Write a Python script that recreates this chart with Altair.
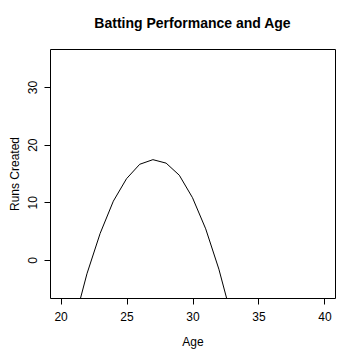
import altair as alt
import pandas as pd

ages = [20, 21, 22, 23, 24, 25, 26, 27, 28, 29, 30, 31, 32, 33, 34, 35, 36, 37, 38, 39, 40]
runs = [-21.3, -11.1, -2.4, 4.6, 10.2, 14.1, 16.6, 17.4, 16.8, 14.7, 10.8, 5.4, -1.6,
        -10.2, -20.0, -31.4, -44.4, -59.0, -75.2, -93.0, -112.4]
x_ticks = [20, 25, 30, 35, 40]
y_ticks = [0, 10, 20, 30]

df = pd.DataFrame({"Age": ages, "Runs": runs})
FONT = "Liberation Sans"

chart = alt.Chart(df).mark_line(color="black", strokeWidth=1, clip=True).encode(
    x=alt.X("Age:Q", scale=alt.Scale(domain=[19.2, 40.8], nice=False, zero=False),
            axis=alt.Axis(values=x_ticks, title="Age", grid=False, domain=False,
                          tickSize=6, tickColor="black", labelPadding=7,
                          labelFontSize=12, labelFont=FONT, labelColor="black",
                          titleFont=FONT, titleFontSize=12, titleFontWeight="normal",
                          titleColor="black", titleY=47, titleBaseline="alphabetic")),
    y=alt.Y("Runs:Q", scale=alt.Scale(domain=[-6.6, 36.6], nice=False, zero=False),
            axis=alt.Axis(values=y_ticks, title="Runs Created", grid=False, domain=False,
                          tickSize=6, tickColor="black", labelPadding=8,
                          labelAngle=-90, labelAlign="center", labelBaseline="alphabetic",
                          labelFontSize=12, labelFont=FONT, labelColor="black",
                          titleFont=FONT, titleFontSize=12, titleFontWeight="normal",
                          titleColor="black", titleX=-32, titleBaseline="alphabetic")),
).properties(
    width=285,
    height=249,
    title=alt.TitleParams("Batting Performance and Age", font=FONT, fontSize=14,
                          fontWeight="bold", color="black", anchor="middle",
                          frame="group", baseline="alphabetic", offset=7),
    autosize=alt.AutoSizeParams(type="none"),
    padding={"left": 42, "top": 41, "right": 17, "bottom": 54},
).configure_view(stroke="black", strokeWidth=1)

chart.save("out.html", embed_options={"renderer": "svg", "actions": False})
